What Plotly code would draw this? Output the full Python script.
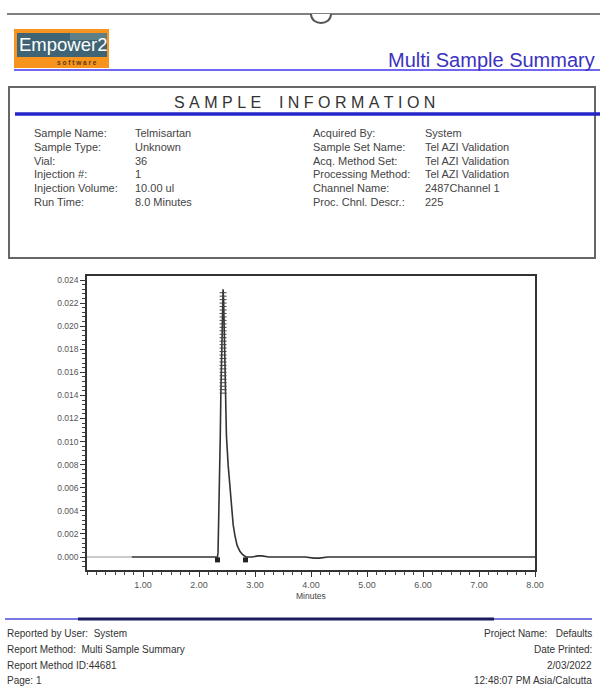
import plotly.graph_objects as go

W, H = 600, 686
FONT = "Liberation Sans, Arial, sans-serif"

# ---- chromatogram (time in minutes, response in AU) ----
pre_time = [0.00, 0.80]
pre_au = [0.0000, 0.0000]

time_min = [0.80, 1.50, 2.20, 2.30, 2.33, 2.34, 2.35, 2.36, 2.37, 2.38,
            2.39, 2.40, 2.41, 2.42, 2.43, 2.44, 2.45, 2.46, 2.47, 2.49,
            2.52, 2.55, 2.58, 2.61, 2.64, 2.68, 2.73, 2.78, 2.84, 2.95,
            3.05, 3.12, 3.25, 3.90, 4.05, 4.15, 4.30, 5.50, 7.00, 8.00]
au = [0.0000, 0.0000, 0.0000, 0.0000, 0.0000, 0.0004, 0.0025, 0.0052, 0.0080, 0.0105,
      0.0140, 0.0172, 0.0200, 0.0222, 0.0232, 0.0222, 0.0195, 0.0165, 0.0139, 0.0105,
      0.0080, 0.0060, 0.0040, 0.0028, 0.0019, 0.0010, 0.0005, 0.0002, 0.0000, 0.0000,
      0.0001, 0.0001, 0.0000, 0.0000, -0.0001, -0.0001, 0.0000, 0.0000, 0.0000, 0.0000]

# apex label marks stacked on the peak
apex_au = [0.0229, 0.0226, 0.0223, 0.0220, 0.0217, 0.0214, 0.0211, 0.0208,
           0.0205, 0.0202, 0.0199, 0.0196, 0.0193, 0.0190, 0.0187, 0.0184,
           0.0181, 0.0178, 0.0175, 0.0172, 0.0169, 0.0166, 0.0163, 0.0160,
           0.0157, 0.0154, 0.0151, 0.0148, 0.0145, 0.0142]
apex_time = [2.43] * len(apex_au)

# integration start / end marks
int_time = [2.33, 2.83]
int_au = [-0.00025, -0.00025]

x_ticks = [1, 2, 3, 4, 5, 6, 7, 8]
x_tick_text = ["1.00", "2.00", "3.00", "4.00", "5.00", "6.00", "7.00", "8.00"]
y_ticks = [0.000, 0.002, 0.004, 0.006, 0.008, 0.010, 0.012,
           0.014, 0.016, 0.018, 0.020, 0.022, 0.024]
y_tick_text = ["0.000", "0.002", "0.004", "0.006", "0.008", "0.010", "0.012",
               "0.014", "0.016", "0.018", "0.020", "0.022", "0.024"]

# ---- report text ----
left_labels = ["Sample Name:", "Sample Type:", "Vial:", "Injection #:",
               "Injection Volume:", "Run Time:"]
left_values = ["Telmisartan", "Unknown", "36", "1", "10.00 ul", "8.0 Minutes"]
right_labels = ["Acquired By:", "Sample Set Name:", "Acq. Method Set:",
                "Processing Method:", "Channel Name:", "Proc. Chnl. Descr.:"]
right_values = ["System", "Tel AZI Validation", "Tel AZI Validation",
                "Tel AZI Validation", "2487Channel 1", "225"]
footer_left = ["Reported by User:\u00a0 System", "Report Method:\u00a0 Multi Sample Summary",
               "Report Method ID:44681", "Page: 1"]
footer_right = ["Project Name:\u00a0\u00a0 Defaults", "Date Printed:", "2/03/2022",
                "12:48:07 PM Asia/Calcutta"]


def px(x):
    return x / W


def py(y):
    return 1 - y / H


def ann(text, x, y, size, color, xanchor="left", family=FONT, yanchor="middle"):
    return dict(text=text, x=px(x), y=py(y), xref="paper", yref="paper",
                xanchor=xanchor, yanchor=yanchor, showarrow=False,
                font=dict(family=family, size=size, color=color))


def hline(x0, x1, y, color, width):
    return dict(type="line", xref="paper", yref="paper", x0=px(x0), x1=px(x1),
                y0=py(y), y1=py(y), line=dict(color=color, width=width))


def rect(x0, y0, x1, y1, fill=None, color=None, width=0):
    return dict(type="rect", xref="paper", yref="paper", x0=px(x0), x1=px(x1),
                y0=py(y0), y1=py(y1), fillcolor=fill,
                line=dict(color=color, width=width))


fig = go.Figure()
fig.add_trace(go.Scatter(x=pre_time, y=pre_au, mode="lines",
                         line=dict(color="#b8b8b8", width=1.5), hoverinfo="skip"))
fig.add_trace(go.Scatter(x=time_min, y=au, mode="lines",
                         line=dict(color="#333", width=1.6), hoverinfo="skip"))
fig.add_trace(go.Scatter(x=apex_time, y=apex_au, mode="markers",
                         marker=dict(symbol="line-ew", size=5,
                                     line=dict(color="#444", width=1)),
                         hoverinfo="skip"))
fig.add_trace(go.Scatter(x=int_time, y=int_au, mode="markers",
                         marker=dict(symbol="square", size=5, color="#222"),
                         hoverinfo="skip"))

shapes = []
# page top rule with binder hole
shapes.append(hline(7, 600, 14, "#555", 1.3))
shapes.append(dict(type="path", xref="paper", yref="paper",
                   path="M {},{} C {},{} {},{} {},{}".format(
                       px(311), py(14), px(311), py(26), px(331), py(26), px(331), py(14)),
                   fillcolor="white", line=dict(color="#555", width=2)))
# logo
shapes.append(rect(14, 29, 109, 68, fill="#f7941e"))
shapes.append(rect(17, 33, 107, 57, fill="#3e6475"))
shapes.append(rect(70, 33, 107, 40, fill="#5d7f88"))
# header rule
shapes.append(hline(14, 600, 70, "#7068f0", 2))
# sample information frame
shapes.append(rect(9, 87, 595, 258, color="#666", width=2))
shapes.append(hline(15, 600, 114, "#2424c8", 3.5))
# footer rules
shapes.append(hline(5, 592, 619, "#4b4bd8", 1.5))
shapes.append(hline(78, 494, 619, "#1c1c5c", 3))

annotations = []
annotations.append(ann("Empower2", 17, 45, 18.5, "white"))
annotations.append(ann("<b>s\u00a0o\u00a0f\u00a0t\u00a0w\u00a0a\u00a0r\u00a0e</b>",
                       55, 63, 6.5, "#5a3a10"))
annotations.append(ann("Multi Sample Summary", 597, 60, 20, "#3b32c0", xanchor="right"))
annotations.append(ann("S\u00a0A\u00a0M\u00a0P\u00a0L\u00a0E\u00a0\u00a0\u00a0\u00a0"
                       "I\u00a0N\u00a0F\u00a0O\u00a0R\u00a0M\u00a0A\u00a0T\u00a0I\u00a0O\u00a0N",
                       304, 102, 16, "#333", xanchor="center"))

row_y = [133, 147, 161, 174, 188, 202]
for i, yy in enumerate(row_y):
    annotations.append(ann(left_labels[i], 32, yy, 11, "#444"))
    annotations.append(ann(left_values[i], 133, yy, 11, "#444"))
    annotations.append(ann(right_labels[i], 311, yy, 11, "#444"))
    annotations.append(ann(right_values[i], 423, yy, 11, "#444"))

annotations.append(ann("Minutes", 311, 596, 8.5, "#444", xanchor="center"))

foot_y = [633, 649, 665, 680]
for i, yy in enumerate(foot_y):
    annotations.append(ann(footer_left[i], 5, yy, 10, "#333"))
    annotations.append(ann(footer_right[i], 594, yy, 10, "#333", xanchor="right"))

y_lo = -0.001126
y_hi = 0.024347

fig.update_layout(
    width=W, height=H,
    margin=dict(l=0, r=0, t=0, b=0, pad=0),
    paper_bgcolor="white", plot_bgcolor="white",
    showlegend=False,
    font=dict(family=FONT),
    shapes=shapes,
    annotations=annotations,
    xaxis=dict(
        domain=[px(87), px(535)], range=[0, 8],
        showline=True, linecolor="#333", linewidth=1.5, mirror=True,
        showgrid=False, zeroline=False, automargin=False,
        tickmode="array", tickvals=x_ticks, ticktext=x_tick_text,
        ticks="outside", ticklen=5, tickwidth=1, tickcolor="#333",
        tickfont=dict(size=9, color="#555"),
        minor=dict(tickmode="linear", tick0=0, dtick=1 / 6, ticks="outside",
                   ticklen=3, tickwidth=1, tickcolor="#444", showgrid=False),
    ),
    yaxis=dict(
        domain=[py(570), py(276)], range=[y_lo, y_hi],
        showline=True, linecolor="#333", linewidth=1.5, mirror=True,
        showgrid=False, zeroline=False, automargin=False,
        tickmode="array", tickvals=y_ticks, ticktext=y_tick_text,
        ticks="outside", ticklen=5, tickwidth=1, tickcolor="#333",
        tickfont=dict(size=8.5, color="#555"),
        minor=dict(tickmode="linear", tick0=0, dtick=0.0004, ticks="outside",
                   ticklen=3, tickwidth=1, tickcolor="#444", showgrid=False),
    ),
)

fig.write_html("out.html")
